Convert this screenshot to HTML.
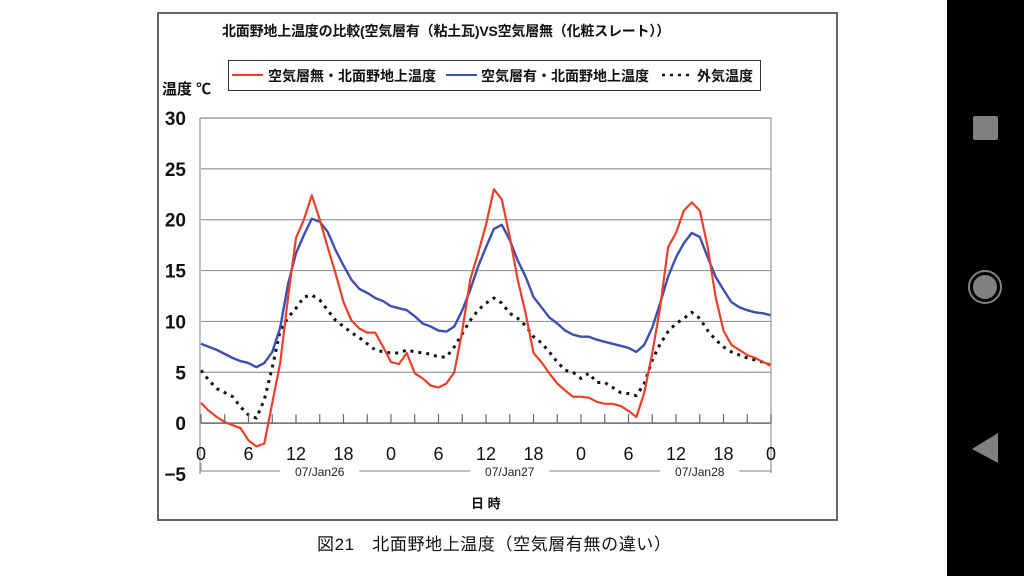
<!DOCTYPE html>
<html><head><meta charset="utf-8">
<style>
body{margin:0;width:1024px;height:576px;background:#fff;overflow:hidden;position:relative;font-family:"Liberation Sans","Noto Sans CJK JP",sans-serif;}
.t{position:absolute;white-space:nowrap;color:#111;}
</style></head>
<body>
<div style="position:absolute;left:157px;top:12px;width:677px;height:505px;border:2px solid #666;"></div>
<div class="t" style="left:222px;top:21px;font-size:14px;font-weight:bold;letter-spacing:-0.2px;">北面野地上温度の比較(空気層有（粘土瓦)VS空気層無（化粧スレート））</div>
<div class="t" style="left:162px;top:78px;font-size:15px;font-weight:bold;">温度 ℃</div>
<div style="position:absolute;left:228px;top:60px;width:531px;height:29px;border:1px solid #333;"></div>
<svg width="1024" height="576" style="position:absolute;left:0;top:0">
<g id="grid"></g><g id="series"></g><g id="axes"></g>
</svg>
<div class="t" style="left:471px;top:493px;font-size:13px;font-weight:bold;">日 時</div>
<div class="t" style="left:317px;top:530px;font-size:17px;letter-spacing:0.6px;">図21　北面野地上温度（空気層有無の違い）</div>
<div style="position:absolute;left:947px;top:0;width:77px;height:576px;background:#000;"></div>
<div style="position:absolute;left:973px;top:116px;width:25px;height:24px;background:#808080;border-radius:2px;"></div>
<div style="position:absolute;left:968px;top:270px;width:30px;height:30px;border:2px solid #808080;border-radius:50%;"></div>
<div style="position:absolute;left:973px;top:275px;width:24px;height:24px;background:#808080;border-radius:50%;"></div>
<svg style="position:absolute;left:970px;top:432px" width="30" height="32"><polygon points="28,1 28,31 2,17" fill="#808080"/></svg>
<script>
const hours=[];for(let i=0;i<=72;i++)hours.push(i);
const redNoAir=[2.0,1.2,0.6,0.1,-0.2,-0.5,-1.7,-2.3,-2.0,2.0,5.9,12.4,18.2,20.0,22.4,20.0,17.3,14.7,11.9,10.1,9.3,8.9,8.9,7.5,
6.0,5.8,6.9,4.9,4.4,3.7,3.5,3.9,5.0,9.1,14.1,16.7,19.5,23.0,22.0,18.3,14.1,10.8,6.9,6.0,4.9,3.9,3.2,2.6,
2.6,2.5,2.1,1.9,1.9,1.7,1.2,0.6,3.0,6.9,11.4,17.3,18.7,20.9,21.7,20.9,17.3,12.4,9.1,7.7,7.2,6.7,6.4,6.0,5.7];
const blueAir=[7.8,7.5,7.2,6.8,6.4,6.1,5.9,5.5,5.9,7.0,9.4,13.7,16.7,18.5,20.1,19.8,18.8,17.0,15.5,14.1,13.2,12.8,12.3,12.0,
11.5,11.3,11.1,10.5,9.8,9.5,9.1,9.0,9.5,11.1,13.1,15.4,17.3,19.1,19.5,18.0,16.0,14.4,12.4,11.4,10.4,9.8,9.1,8.7,
8.5,8.5,8.2,8.0,7.8,7.6,7.4,7.0,7.7,9.4,11.8,14.4,16.3,17.7,18.7,18.3,16.3,14.4,13.1,11.9,11.4,11.1,10.9,10.8,10.6];
const outside=[5.2,4.2,3.4,3.0,2.6,1.6,0.8,0.5,2.3,5.5,9.1,10.4,11.3,12.4,12.6,12.1,11.1,10.1,9.5,8.9,8.4,7.8,7.2,7.0,
6.9,6.9,7.2,7.0,6.9,6.8,6.5,6.5,7.5,8.8,10.1,11.1,11.8,12.3,11.8,10.8,10.3,9.6,8.5,7.9,7.0,6.0,5.2,5.0,
4.4,4.9,4.0,4.0,3.5,3.0,2.9,2.7,3.9,6.2,7.8,9.0,9.8,10.3,10.9,10.3,9.1,8.2,7.5,7.0,6.7,6.4,6.2,6.0,5.7];
const yTicks=[30,25,20,15,10,5,0,-5];
const xTickHours=[0,6,12,18,24,30,36,42,48,54,60,66,72];
const xTickLabels=["0","6","12","18","0","6","12","18","0","6","12","18","0"];
const dateLabels=["07/Jan26","07/Jan27","07/Jan28"];
const legendLabels=["空気層無・北面野地上温度","空気層有・北面野地上温度","外気温度"];

const X0=201,X1=771,Y30=118,Ym5=474;
const xs=h=>X0+(X1-X0)*h/72;
const ys=v=>Y30+(30-v)*(Ym5-Y30)/35;
const NS="http://www.w3.org/2000/svg";
function mk(parent,tag,attrs){const e=document.createElementNS(NS,tag);for(const k in attrs)e.setAttribute(k,attrs[k]);document.getElementById(parent).appendChild(e);return e;}

yTicks.forEach(v=>{
  if(v>-5){const l=mk('grid','line',{x1:X0,x2:X1,y1:ys(v),y2:ys(v),stroke:v===0?'#666':'#999','stroke-width':v===0?1.5:1.2});
  
  }
  const t=mk('axes','text',{x:186,y:ys(v)+7,'text-anchor':'end','font-size':19,'font-weight':'bold',fill:'#111','font-family':'Liberation Sans Narrow, Liberation Sans, sans-serif'});
  t.textContent=v<0?'−'+(-v):v;
  
  
});
const ax=mk('axes','path',{d:`M${X0-1},${Y30} V${Ym5} M${X0-1},${Y30} H${X1} V${Ym5-1}`,stroke:'#999',fill:'none','stroke-width':1.2});


for(let h=0;h<=72;h+=3){const tk=mk('axes','line',{x1:xs(h),x2:xs(h),y1:ys(0),y2:ys(0)-9,stroke:'#666','stroke-width':1.2});

}
xTickHours.forEach((h,i)=>{const t=mk('axes','text',{x:xs(h),y:460,'text-anchor':'middle','font-size':18,fill:'#111','font-family':'Liberation Sans Narrow, Liberation Sans, sans-serif'});
t.textContent=xTickLabels[i];

});
const br=mk('axes','path',{d:`M${X0},463 V471 H${xs(10)} M${xs(20)},471 H${xs(34)} M${xs(44)},471 H${xs(58)} M${xs(68)},471 H${X1} V463`,stroke:'#999',fill:'none','stroke-width':1.2});


dateLabels.forEach((d,i)=>{const t=mk('axes','text',{x:xs(15+24*i),y:476,'text-anchor':'middle','font-size':12,fill:'#222','font-family':'Liberation Sans Narrow, Liberation Sans, sans-serif'});
t.textContent=d;

});

function line(vals,color,dash,w,name){
  const d=vals.map((v,i)=>(i?'L':'M')+xs(hours[i]).toFixed(1)+','+ys(v).toFixed(1)).join(' ');
  const p=mk('series','path',{d:d,stroke:color,fill:'none','stroke-width':w,'stroke-dasharray':dash,'stroke-linejoin':'round'});
  
  
}
line(outside,'#111','3 5',3,'series-outside-temp');
line(blueAir,'#3f4fb0','none',2.4,'series-with-air-layer');
line(redNoAir,'#e8402a','none',2.2,'series-without-air-layer');

const legX=[232,446,662],legTX=[268,481,697],legColor=['#e8402a','#3f4fb0','#111'],legDash=['none','none','3 5'];
legendLabels.forEach((s,i)=>{
  const l=mk('axes','line',{x1:legX[i],x2:legX[i]+31,y1:75,y2:75,stroke:legColor[i],'stroke-width':i==2?2.5:2,'stroke-dasharray':legDash[i]});
  
  
  const t=mk('axes','text',{x:legTX[i],y:81,'font-size':14,'font-weight':'bold',fill:'#111','font-family':'Liberation Sans, Noto Sans CJK JP, sans-serif'});
  t.textContent=s;
  
  
});
</script>
</body></html>
